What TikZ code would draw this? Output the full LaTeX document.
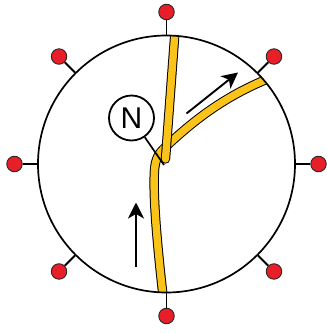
\documentclass[tikz,border=0pt]{standalone}
\usepackage{fontspec}
\setmainfont{Liberation Sans}
\usetikzlibrary{arrows.meta,calc}
\definecolor{roadyellow}{RGB}{250,195,25}
\definecolor{pinred}{RGB}{232,30,40}
\tikzset{
  ringstyle/.style={circle,draw=black,line width=1.7pt,minimum size=257pt,inner sep=0pt},
  pindot/.style={circle,draw=black!85,line width=0.9pt,fill=pinred,minimum size=15.5pt,inner sep=0pt},
  stalk/.style={draw=black,line width=1.8pt},
  roadedge/.style={draw=black,line width=9.4pt},
  roadfill/.style={draw=roadyellow,line width=7.4pt},
  ncirc/.style={circle,draw=black,line width=1.8pt,minimum size=45pt,inner sep=0pt,fill=white,
    font=\fontsize{30}{30}\selectfont},
  leader/.style={draw=black,line width=1.7pt},
  dirarrow/.style={draw=black,line width=1.9pt,-{Stealth[length=16pt,width=16pt,inset=4.5pt]}},
}
\begin{document}
\begin{tikzpicture}[x=1pt,y=-1pt]
\useasboundingbox (0,0) rectangle (327,333);
\coordinate (c) at (166.5,164);
% roads, clipped to the ring
\begin{scope}
  \clip (c) circle (128.5pt);
  \def\roadA{(163.5,300) .. controls (156,235) and (153,192) .. (154.5,170)
    .. controls (155.5,158) and (159,153) .. (166,146.5)
    .. controls (190,124) and (222,97) .. (270,78)}
  \path[roadedge] \roadA;
  \path[roadfill] \roadA;
  \path[roadedge,line cap=round] (175.5,25) -- (165.5,159);
  \path[roadfill,line cap=round] (175.5,25) -- (165.5,159);
\end{scope}
% ring
\node[ringstyle] (ring) at (c) {};
% pins
\foreach \a [count=\i] in {0,45,...,315}{
  \node[pindot] (pin\i) at ($(c)+(\a:152pt)$) {};
  \draw[stalk] (ring.\a) -- (pin\i);
}
% N marker
\node[ncirc] (N) at (131.5,118) {N};
\coordinate (leaderend) at (164,165);
\draw[leader] (N) -- (leaderend);
% direction arrows
\coordinate (a1s) at (186.5,113.5);
\coordinate (a1e) at (238,72.5);
\draw[dirarrow] (a1s) -- (a1e);
\coordinate (a2s) at (136,267);
\coordinate (a2e) at (136,202.5);
\draw[dirarrow] (a2s) -- (a2e);
\end{tikzpicture}
\end{document}
